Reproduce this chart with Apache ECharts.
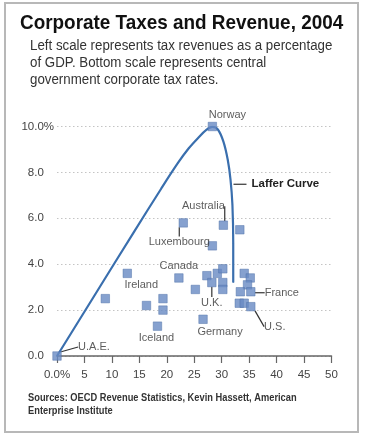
<!DOCTYPE html>
<html>
<head>
<meta charset="utf-8">
<script src="https://cdn.jsdelivr.net/npm/echarts@6/dist/echarts.min.js"></script>
<style>html,body{margin:0;padding:0;background:#fff}#c{width:366px;height:438px}</style>
</head>
<body>
<div id="c"></div>
<script>
// ---- data ----
const titleText = 'Corporate Taxes and Revenue, 2004';
const subtitleText = 'Left scale represents tax revenues as a percentage\nof GDP. Bottom scale represents central\ngovernment corporate tax rates.';
const sourceText = 'Sources: OECD Revenue Statistics, Kevin Hassett, American\nEnterprise Institute';
const curveName = 'Laffer Curve';

const countries = ['U.A.E.','Norway','Luxembourg','Australia','','','Canada','Ireland','','','','','Iceland','','Germany','','U.K.','','','','','','','','','France','','','U.S.'];
const taxRate   = [0, 28.3, 23.0, 30.3, 33.3, 28.3, 22.2, 12.8, 8.8, 16.3, 19.3, 19.3, 18.3, 25.2, 26.6, 27.3, 28.2, 29.2, 30.2, 30.2, 30.2, 34.1, 35.2, 34.7, 33.4, 35.3, 33.2, 34.1, 35.3];
const revenue   = [0, 10.0, 5.8, 5.7, 5.5, 4.8, 3.4, 3.6, 2.5, 2.2, 2.5, 2.0, 1.3, 2.9, 1.6, 3.5, 3.2, 3.6, 3.8, 3.2, 2.9, 3.6, 3.4, 3.1, 2.8, 2.8, 2.3, 2.3, 2.15];

const curveX = [0, 7, 14, 19, 22, 24, 25.7, 27.2, 28.3, 29.3, 30.3, 31.1, 31.6, 31.95, 32.1, 32.1];
const curveY = [0, 2.7, 5.4, 7.3, 8.4, 9.05, 9.5, 9.85, 9.98, 9.87, 9.35, 8.55, 7.7, 6.6, 4.9, 3.2];
const curveLabelIndex = 12;

// ---- styles / label placement (pixels) ----
const labelOffsets = {
  'Norway': [15, -12, false],
  'Luxembourg': [-4, 19, true],
  'Australia': [-20, -19, true],
  'Canada': [0, -12, false],
  'Ireland': [14, 12, false],
  'Iceland': [-1, 12, false],
  'Germany': [17, 13, false],
  'U.K.': [0, 20, true],
  'France': [31, 1, true],
  'U.S.': [24, 20, true],
  'U.A.E.': [37, -9, true]
};
const FONT = "'Liberation Sans', Arial, sans-serif";

const pointData = taxRate.map((x, i) => {
  const name = countries[i];
  const o = labelOffsets[name];
  return {
    value: [x, revenue[i]],
    name: name,
    label: { show: !!o },
    labelLine: { show: !!(o && o[2]) }
  };
});
const curveData = curveX.map((x, i) => {
  const item = { value: [x, curveY[i]] };
  if (i === curveLabelIndex) {
    item.label = {
      show: true, position: 'right', distance: 2.5, offset: [0, 5],
      formatter: '{d|}{t|' + curveName + '}',
      rich: {
        d: { width: 13, height: 1.3, backgroundColor: '#444' },
        t: { fontFamily: FONT, fontWeight: 'bold', fontSize: 11.5, color: '#222', padding: [0, 0, 0, 5] }
      }
    };
  }
  return item;
});

// header / footer texts as graphic text (horizontally condensed)
function textLines(str, x, yFirst, lh, font, scaleX, color) {
  return str.split('\n').map((line, k) => ({
    type: 'text', x: x, y: yFirst + k * lh, scaleX: scaleX, silent: true,
    style: { x: 0, y: 0, text: line, font: font, fill: color, textAlign: 'left', textVerticalAlign: 'middle' }
  }));
}
const graphics = [
  { type: 'rect', shape: { x: 5, y: 3, width: 353, height: 429 }, style: { fill: 'none', stroke: '#b8b8b8', lineWidth: 2 }, silent: true }
]
  .concat(textLines(titleText, 20, 23.5, 0, "bold 21px 'Liberation Sans', Arial, sans-serif", 0.9, '#111'))
  .concat(textLines(subtitleText, 30, 46.5, 16.7, "14px 'Liberation Sans', Arial, sans-serif", 0.95, '#333'))
  .concat(textLines(sourceText, 28, 397.5, 13.5, "bold 11px 'Liberation Sans', Arial, sans-serif", 0.845, '#333'));

const chart = echarts.init(document.getElementById('c'), null, { renderer: 'canvas' });
chart.setOption({
  animation: false,
  backgroundColor: '#fff',
  graphic: graphics,
  grid: { left: 57, right: 34.5, top: 126.5, bottom: 82, containLabel: false },
  xAxis: {
    type: 'value', min: 0, max: 50, interval: 5,
    axisLine: { show: true, lineStyle: { color: '#666', width: 1.5 } },
    axisTick: { show: true, length: 7, lineStyle: { color: '#666', width: 1.2 } },
    axisLabel: {
      margin: 13, fontFamily: FONT, fontSize: 11.5, color: '#444',
      formatter: v => v === 0 ? '0.0%' : String(v)
    },
    splitLine: { show: false }
  },
  yAxis: {
    type: 'value', min: 0, max: 10, interval: 2,
    axisLine: { show: false }, axisTick: { show: false },
    axisLabel: {
      margin: 3, fontFamily: FONT, fontSize: 11.5, color: '#444',
      formatter: v => v.toFixed(1) + (v === 10 ? '%' : '{s|%}'),
      rich: { s: { fontFamily: FONT, fontSize: 11.5, color: 'rgba(0,0,0,0)' } }
    },
    splitLine: { show: true, lineStyle: { color: '#c4c4c4', type: [1.5, 2.5], width: 1 } }
  },
  series: [
    {
      name: curveName, type: 'line', data: curveData, smooth: 0.35,
      showSymbol: true, symbol: 'circle', symbolSize: 1,
      itemStyle: { color: '#3a6fae' },
      lineStyle: { color: '#3a6fae', width: 2.2 },
      z: 2
    },
    {
      type: 'scatter', data: pointData, symbol: 'rect', symbolSize: 8.5,
      itemStyle: { color: '#6889c3', borderColor: '#5072a9', borderWidth: 0.6 },
      label: {
        show: false, formatter: p => p.name,
        fontFamily: FONT, fontSize: 11, color: '#333'
      },
      labelLine: { show: false, lineStyle: { color: '#333', width: 1.2 } },
      labelLayout: function (p) {
        const name = countries[p.dataIndex];
        const o = labelOffsets[name];
        if (!o) return {};
        return {
          x: p.rect.x + p.rect.width / 2 + o[0],
          y: p.rect.y + p.rect.height / 2 + o[1],
          align: 'center', verticalAlign: 'middle'
        };
      },
      z: 3
    }
  ]
});
</script>
</body>
</html>
